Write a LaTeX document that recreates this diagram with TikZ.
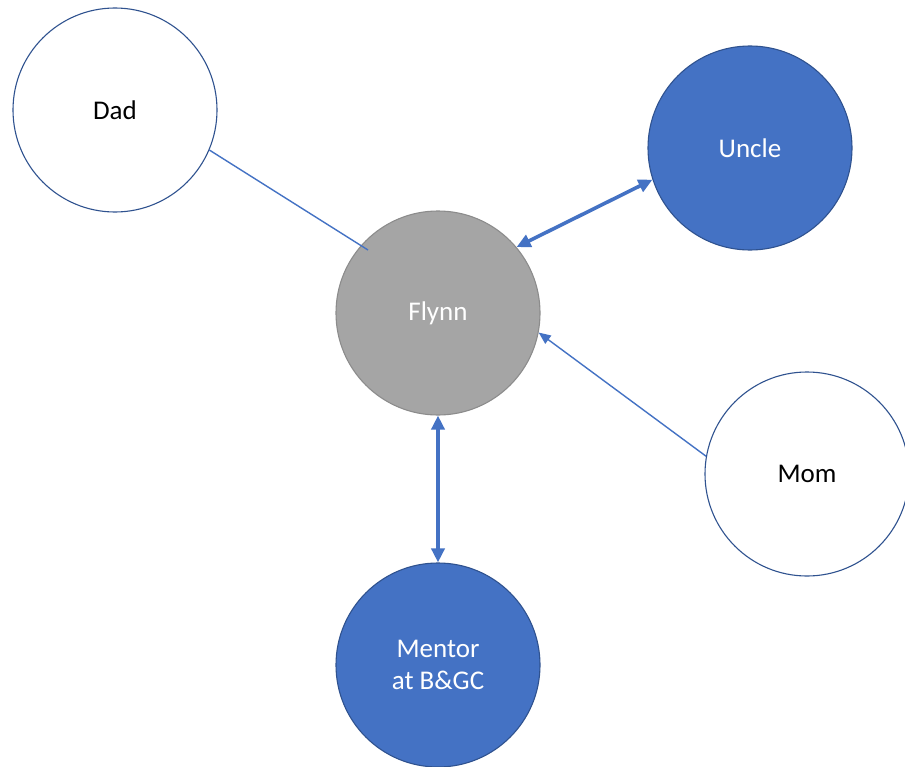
\documentclass[tikz,border=0pt]{standalone}
\usepackage{fontspec}
\setmainfont{Carlito}
\usetikzlibrary{arrows.meta}
\definecolor{officeblue}{HTML}{4472C4}
\definecolor{darkblue}{HTML}{2F528F}
\definecolor{midgray}{HTML}{A5A5A5}
\definecolor{rimgray}{HTML}{8C8C8C}
\begin{document}
\begin{tikzpicture}[x=1bp,y=-1bp,
  person/.style={circle,minimum size=204bp,inner sep=0pt,line width=1.1bp,
    font=\fontsize{27bp}{32bp}\selectfont,align=center},
  plain/.style={person,draw=darkblue,fill=white,text=black},
  close/.style={person,draw=darkblue,fill=officeblue,text=white},
  self/.style={person,draw=rimgray,fill=midgray,text=white},
  weak/.style={draw=officeblue,line width=1.4bp},
  strong/.style={draw=officeblue,line width=3.6bp,
    {Triangle[length=14bp,width=13bp]}-{Triangle[length=14bp,width=13bp]}},
  oneway/.style={weak,-{Triangle[length=12bp,width=10bp]}}]
\useasboundingbox (0,0) rectangle (905,767);
\fill[white] (0,0) rectangle (905,767);

\node[self]  (flynn)  at (438,313) {Flynn};
\node[plain] (dad)    at (115,110) {Dad};
\node[close] (uncle)  at (750,148) {Uncle};
\node[plain] (mom)    at (807,474) {Mom};
\node[close] (mentor) at (438,665) {Mentor\\at B\&GC};

% ties to Flynn
\coordinate (dadend) at (368,250);
\draw[weak] (dad.-23) -- (dadend);
\draw[strong] (uncle.198) -- (flynn.40);
\draw[oneway] (mom.170) -- (flynn.-11);
\draw[strong] (mentor.north) -- (flynn.south);
\end{tikzpicture}
\end{document}
